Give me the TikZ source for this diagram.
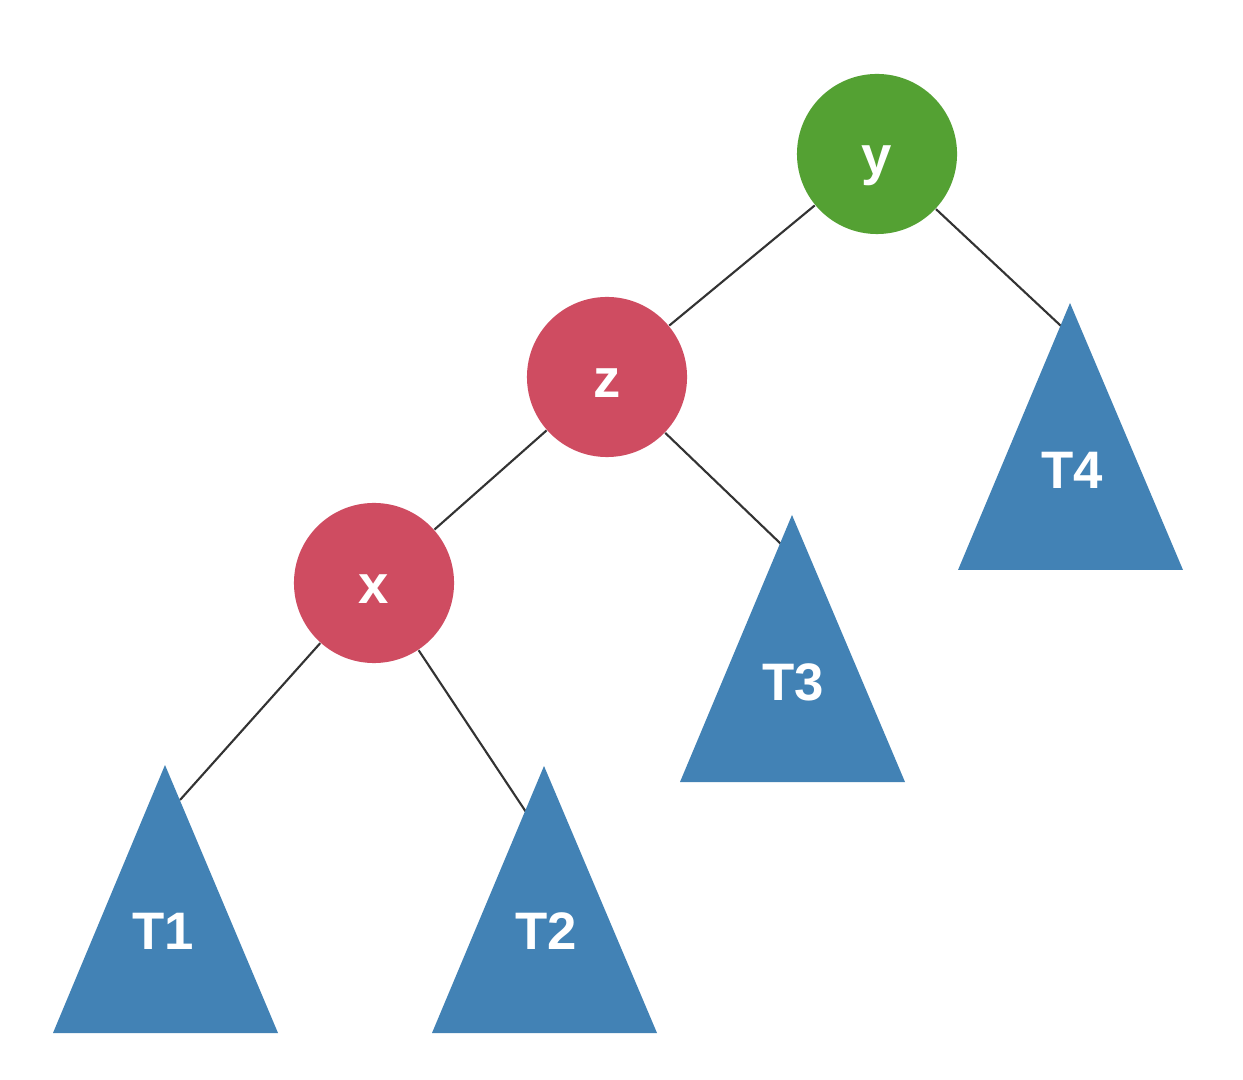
\documentclass[tikz,border=0pt]{standalone}
\usepackage{fontspec}
\setmainfont{Liberation Sans}
\definecolor{blacknode}{rgb}{0.33, 0.63, 0.20}
\definecolor{rednode}{rgb}{0.81, 0.30, 0.38}
\definecolor{subtree}{rgb}{0.26, 0.51, 0.71}
\definecolor{edgegray}{rgb}{0.20, 0.20, 0.20}
\tikzstyle{keynode} = [circle,fill=rednode,text=white,minimum size=1.6cm,inner sep=0,font=\bfseries\fontsize{15.5}{16}\selectfont,text height=11.4pt,text depth=0]
\tikzstyle{sub} = [fill=subtree]
\tikzstyle{subname} = [text=white,inner sep=0,font=\bfseries\fontsize{15}{15}\selectfont,text height=10.7pt,text depth=0]
\tikzstyle{edge} = [draw=edgegray,line width=0.6pt]

\begin{document}
\begin{tikzpicture}[x=0.01cm,y=-0.01cm]
			\useasboundingbox[fill=white] (0,0) rectangle (1243,1080);
			\node [keynode,fill=blacknode](y) at (877,154){y};
			\node [keynode](z) at (607,377){z};
			\node [keynode](x) at (374,583){x};
			% where the edges meet the subtrees
			\coordinate (h1) at (180,800);
			\coordinate (h2) at (526,812);
			\coordinate (h3) at (782,545);
			\coordinate (h4) at (1061,326);

			\draw[edge](y)--(z);
			\draw[edge](y)--(h4);
			\draw[edge](z)--(x);
			\draw[edge](z)--(h3);
			\draw[edge](x)--(h1);
			\draw[edge](x)--(h2);

			\fill[sub] (165,765) -- ++(-112,268) -- ++(225,0) -- cycle;
			\fill[sub] (544,766) -- ++(-112,267) -- ++(225,0) -- cycle;
			\fill[sub] (792,515) -- ++(-112,267) -- ++(225,0) -- cycle;
			\fill[sub] (1070,303) -- ++(-112,267) -- ++(225,0) -- cycle;
			\node [subname](t1) at (163,931){T1};
			\node [subname](t2) at (546,931){T2};
			\node [subname](t3) at (793,682){T3};
			\node [subname](t4) at (1072,470){T4};
\end{tikzpicture}
\end{document}
